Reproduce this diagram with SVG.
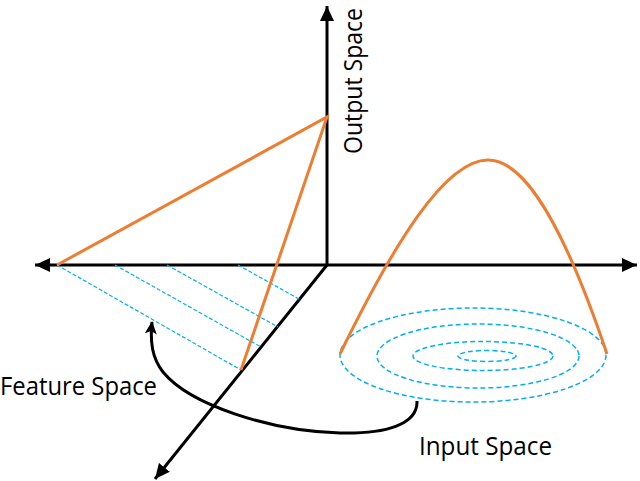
<svg xmlns="http://www.w3.org/2000/svg" width="640" height="481" viewBox="0 0 640 481">
<defs>
<marker id="ah" markerUnits="userSpaceOnUse" markerWidth="16" markerHeight="14" viewBox="0 0 16 14" refX="15" refY="7" orient="auto-start-reverse">
<path d="M0,0 L15,7 L0,14 Z" fill="#000"/>
</marker>
<marker id="ah2" markerUnits="userSpaceOnUse" markerWidth="14" markerHeight="12" viewBox="0 0 14 12" refX="12" refY="6" orient="auto">
<path d="M0,0 L13,6 L0,12 L3,6 Z" fill="#000"/>
</marker>
<style>
.axis{stroke:#000;stroke-width:3;fill:none}
.orange{stroke:#ED7D31;stroke-width:3;fill:none;stroke-linejoin:miter}
.proj{stroke:#00B0F0;stroke-width:1.2;stroke-dasharray:4 2;fill:none}
.ell{stroke:#00B0F0;stroke-width:1.5;stroke-dasharray:5 3;fill:none}
.lbl{font-family:"Open Sans","Liberation Sans",sans-serif;font-size:25px;fill:#000}
</style>
</defs>
<g id="connectors">
<line class="axis" x1="35" y1="265" x2="637" y2="265" marker-start="url(#ah)" marker-end="url(#ah)"/>
<line class="axis" x1="327" y1="266" x2="327" y2="6" marker-end="url(#ah)"/>
<line class="axis" x1="327" y1="265" x2="155" y2="479" marker-end="url(#ah)"/>
<line class="proj" x1="57" y1="265" x2="241" y2="370"/>
<line class="proj" x1="115" y1="265" x2="261" y2="347"/>
<line class="proj" x1="167" y1="265" x2="278" y2="327"/>
<line class="proj" x1="238" y1="265" x2="299" y2="299"/>
<polyline class="orange" points="57,265 327,117 241,370"/>
<ellipse class="ell" cx="473" cy="355" rx="133" ry="47"/>
<ellipse class="ell" cx="478" cy="356" rx="101" ry="32"/>
<ellipse class="ell" cx="483" cy="356" rx="70" ry="14.5"/>
<ellipse class="ell" cx="487" cy="356" rx="29" ry="5.5"/>
<path class="orange" d="M340,354 C393,245 445,160 488,160 C528,160 568,238 607,354"/>
<path class="axis" d="M417,401 C418,425 385,434 340,433 C270,431 190,405 163,372 C152,358 150,342 152,322" marker-end="url(#ah2)"/>
</g>
<g id="output-space"><text class="lbl" style="font-size:22px" transform="translate(362,154) rotate(-90) scale(1,1.13)" textLength="146" lengthAdjust="spacingAndGlyphs">Output Space</text></g>
<g id="feature-space"><text class="lbl" x="0" y="395" textLength="157" lengthAdjust="spacingAndGlyphs">Feature Space</text></g>
<g id="input-space"><text class="lbl" x="419" y="455" textLength="133" lengthAdjust="spacingAndGlyphs">Input Space</text></g>
</svg>
